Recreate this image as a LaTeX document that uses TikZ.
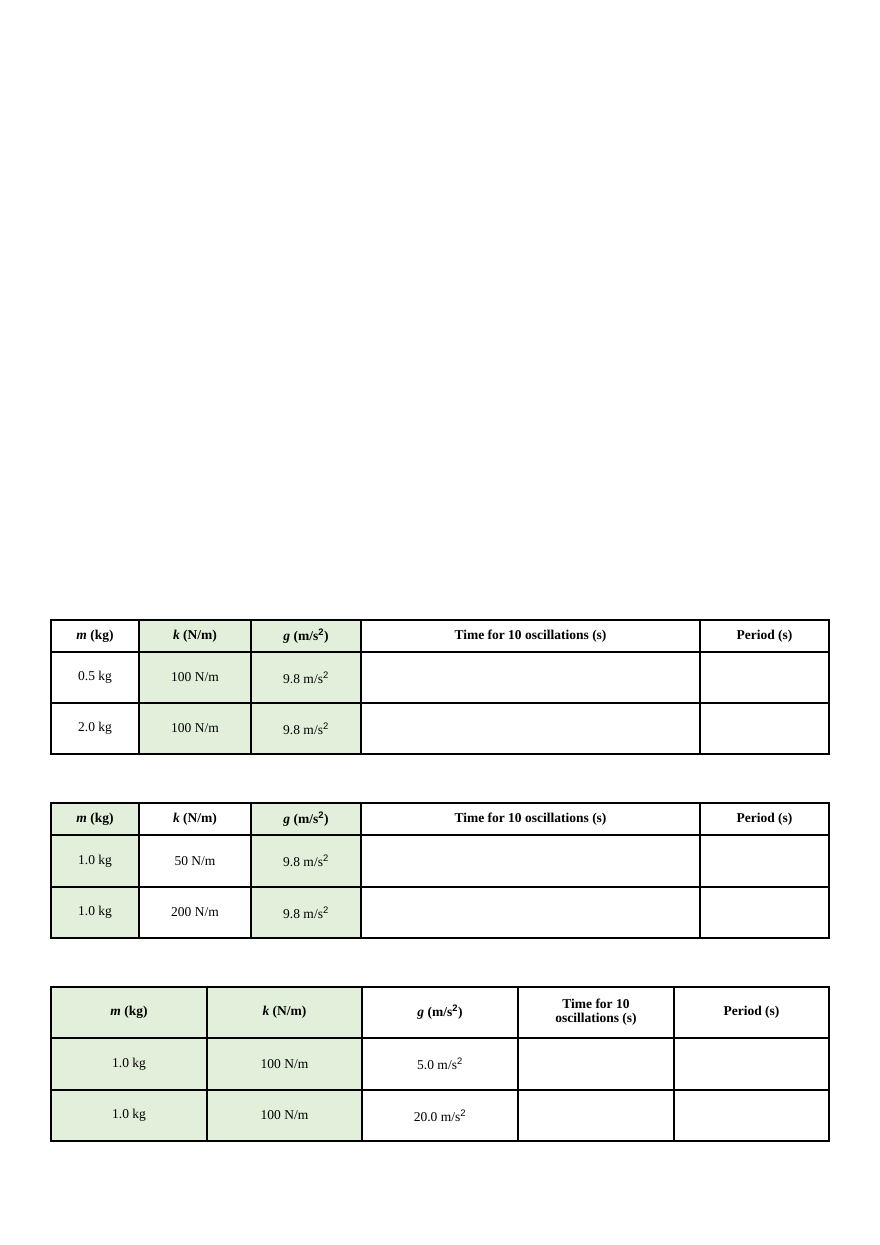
\documentclass[tikz,border=0pt]{standalone}
\usepackage{fontspec}
\setmainfont{Liberation Serif}
\newfontfamily\supfont{Liberation Sans}
\definecolor{cellgreen}{HTML}{E2EFDA}
\newcommand{\sqr}{\textsuperscript{\supfont 2}}
\begin{document}
\begin{tikzpicture}[x=1pt,y=-1pt,
  cellbox/.style={draw=black,line width=1.3pt,inner sep=0pt,align=center,font=\fontsize{13.5}{15}\selectfont},
  gr/.style={fill=cellgreen}]
\useasboundingbox (0,0) rectangle (880,1245);
% generic cell: name, x1,y1,x2,y2, style, text
\newcommand{\cell}[7]{\path[cellbox,#6] (#2,#3) rectangle (#4,#5);
  \node[font=\fontsize{13.5}{15}\selectfont,align=center] (#1) at ({(#2+#4)/2},{(#3+#5)/2}) {#7};}
% Table 1
\foreach \ya/\yb/\r in {620/652/h,652/703/a,703/754/b}{}
\cell{a11}{51}{620}{139}{652}{}{\textbf{\textit{m} (kg)}}
\cell{a12}{139}{620}{251}{652}{gr}{\textbf{\textit{k} (N/m)}}
\cell{a13}{251}{620}{361}{652}{gr}{\textbf{\textit{g} (m/s\sqr)}}
\cell{a14}{361}{620}{700}{652}{}{\textbf{Time for 10 oscillations (s)}}
\cell{a15}{700}{620}{829}{652}{}{\textbf{Period (s)}}
\cell{a21}{51}{652}{139}{703}{}{0.5 kg}
\cell{a22}{139}{652}{251}{703}{gr}{100 N/m}
\cell{a23}{251}{652}{361}{703}{gr}{9.8 m/s\sqr}
\cell{a24}{361}{652}{700}{703}{}{}
\cell{a25}{700}{652}{829}{703}{}{}
\cell{a31}{51}{703}{139}{754}{}{2.0 kg}
\cell{a32}{139}{703}{251}{754}{gr}{100 N/m}
\cell{a33}{251}{703}{361}{754}{gr}{9.8 m/s\sqr}
\cell{a34}{361}{703}{700}{754}{}{}
\cell{a35}{700}{703}{829}{754}{}{}
% Table 2
\cell{b11}{51}{803}{139}{835}{gr}{\textbf{\textit{m} (kg)}}
\cell{b12}{139}{803}{251}{835}{}{\textbf{\textit{k} (N/m)}}
\cell{b13}{251}{803}{361}{835}{gr}{\textbf{\textit{g} (m/s\sqr)}}
\cell{b14}{361}{803}{700}{835}{}{\textbf{Time for 10 oscillations (s)}}
\cell{b15}{700}{803}{829}{835}{}{\textbf{Period (s)}}
\cell{b21}{51}{835}{139}{887}{gr}{1.0 kg}
\cell{b22}{139}{835}{251}{887}{}{50 N/m}
\cell{b23}{251}{835}{361}{887}{gr}{9.8 m/s\sqr}
\cell{b24}{361}{835}{700}{887}{}{}
\cell{b25}{700}{835}{829}{887}{}{}
\cell{b31}{51}{887}{139}{938}{gr}{1.0 kg}
\cell{b32}{139}{887}{251}{938}{}{200 N/m}
\cell{b33}{251}{887}{361}{938}{gr}{9.8 m/s\sqr}
\cell{b34}{361}{887}{700}{938}{}{}
\cell{b35}{700}{887}{829}{938}{}{}
% Table 3
\cell{c11}{51}{987}{207}{1038}{gr}{\textbf{\textit{m} (kg)}}
\cell{c12}{207}{987}{362}{1038}{gr}{\textbf{\textit{k} (N/m)}}
\cell{c13}{362}{987}{518}{1038}{}{\textbf{\textit{g} (m/s\sqr)}}
\cell{c14}{518}{987}{674}{1038}{}{\textbf{Time for 10}\\[-1pt]\textbf{oscillations (s)}}
\cell{c15}{674}{987}{829}{1038}{}{\textbf{Period (s)}}
\cell{c21}{51}{1038}{207}{1090}{gr}{1.0 kg}
\cell{c22}{207}{1038}{362}{1090}{gr}{100 N/m}
\cell{c23}{362}{1038}{518}{1090}{}{5.0 m/s\sqr}
\cell{c24}{518}{1038}{674}{1090}{}{}
\cell{c25}{674}{1038}{829}{1090}{}{}
\cell{c31}{51}{1090}{207}{1141}{gr}{1.0 kg}
\cell{c32}{207}{1090}{362}{1141}{gr}{100 N/m}
\cell{c33}{362}{1090}{518}{1141}{}{20.0 m/s\sqr}
\cell{c34}{518}{1090}{674}{1141}{}{}
\cell{c35}{674}{1090}{829}{1141}{}{}
\end{tikzpicture}
\end{document}
